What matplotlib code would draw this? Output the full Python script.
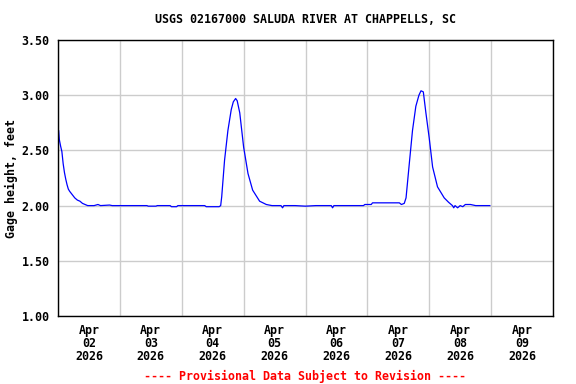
import pandas as pd
import matplotlib
matplotlib.use('Agg')
import matplotlib.pyplot as plt
import matplotlib.dates as mdates

# hours after 2026-04-02 00:00 and gage height (ft)
hours = [0, 0.25, 0.5, 1.0, 1.5, 2.0, 2.5, 3.0, 3.5, 4.0, 4.5, 5.5, 6.5, 7.5, 8.5, 9.5, 10.5, 11.5,
         14, 15.5, 16.5, 20, 21, 24, 30, 34.5, 35, 38, 38.5, 43.5, 44, 46, 46.5, 52, 56.9, 57.5,
         62.5, 63.1, 63.5, 64.6, 65.9, 67.2, 68.0, 68.9, 69.5, 70.5, 72.0, 73.7, 75.5, 78.2,
         80.8, 83, 86.5, 87.1, 87.6, 92, 96, 100, 106, 106.5, 107, 112, 118.5, 119, 121.5, 122,
         132.4, 133.2, 134.3, 135.0, 136.3, 137.5, 138.8, 140.0, 140.8, 141.7, 142.7, 144.0,
         145.3, 147.2, 149.8, 151.5, 153.0, 153.5, 154, 155, 156, 157, 158, 160, 162, 167.5]
gage_ft = [2.69, 2.68, 2.60, 2.54, 2.49, 2.38, 2.30, 2.24, 2.19, 2.15, 2.13, 2.10, 2.07, 2.05, 2.04, 2.02, 2.01, 2.00,
           2.00, 2.01, 2.00, 2.005, 2.00, 2.00, 2.00, 2.00, 1.995, 1.995, 2.00, 2.00, 1.99, 1.99, 2.00, 2.00, 2.00, 1.99,
           1.99, 2.00, 2.08, 2.41, 2.68, 2.87, 2.94, 2.97, 2.95, 2.84, 2.53, 2.29, 2.14, 2.04,
           2.01, 2.00, 2.00, 1.98, 2.00, 2.00, 1.995, 2.00, 2.00, 1.98, 2.00, 2.00, 2.00, 2.01, 2.01, 2.025,
           2.025, 2.01, 2.02, 2.07, 2.39, 2.68, 2.90, 3.00, 3.04, 3.03, 2.84, 2.61,
           2.35, 2.17, 2.07, 2.03, 2.00, 1.98, 2.00, 1.98, 2.00, 1.99, 2.01, 2.01, 2.00, 2.00]

start = pd.Timestamp('2026-04-02 00:00')
times = [start + pd.Timedelta(hours=h) for h in hours]

mono = {'family': 'DejaVu Sans Mono', 'weight': 'bold', 'size': 8.4}

fig = plt.figure(figsize=(5.76, 3.84), dpi=100)
ax = fig.add_axes([58 / 576, 1 - 316 / 384, 495 / 576, 276 / 384])

ax.plot(times, gage_ft, color='#0000ff', linewidth=0.9)

ax.set_xlim(start, pd.Timestamp('2026-04-10 00:00'))
ax.set_ylim(1.0, 3.5)
ax.set_yticks([1.0, 1.5, 2.0, 2.5, 3.0, 3.5])
ax.set_yticklabels(['%.2f' % v for v in ax.get_yticks()], fontdict=mono)

ax.xaxis.set_major_locator(mdates.DayLocator())
ax.xaxis.set_major_formatter(plt.NullFormatter())
ax.xaxis.set_minor_locator(mdates.HourLocator(byhour=12))
ax.xaxis.set_minor_formatter(mdates.DateFormatter('%b\n%d\n%Y'))
for lbl in ax.xaxis.get_minorticklabels():
    lbl.set_fontproperties(matplotlib.font_manager.FontProperties(**mono))
    lbl.set_linespacing(1.0)

ax.tick_params(axis='both', which='both', length=0)
ax.tick_params(axis='y', pad=6)
ax.tick_params(axis='x', which='minor', pad=6)

ax.grid(True, which='major', color='#cccccc', linewidth=1)
ax.set_axisbelow(True)
for sp in ax.spines.values():
    sp.set_linewidth(1)
    sp.set_color('black')

ax.set_ylabel('Gage height, feet', fontdict=mono)
ax.yaxis.set_label_coords((18 - 58) / 495, 0.5)
ax.set_title('USGS 02167000 SALUDA RIVER AT CHAPPELLS, SC', fontdict=mono, pad=12)
fig.text(305.5 / 576, 1 - 376 / 384, '---- Provisional Data Subject to Revision ----',
         color='#ff0000', ha='center', va='center', **mono)

fig.savefig('out.png', dpi=100)
